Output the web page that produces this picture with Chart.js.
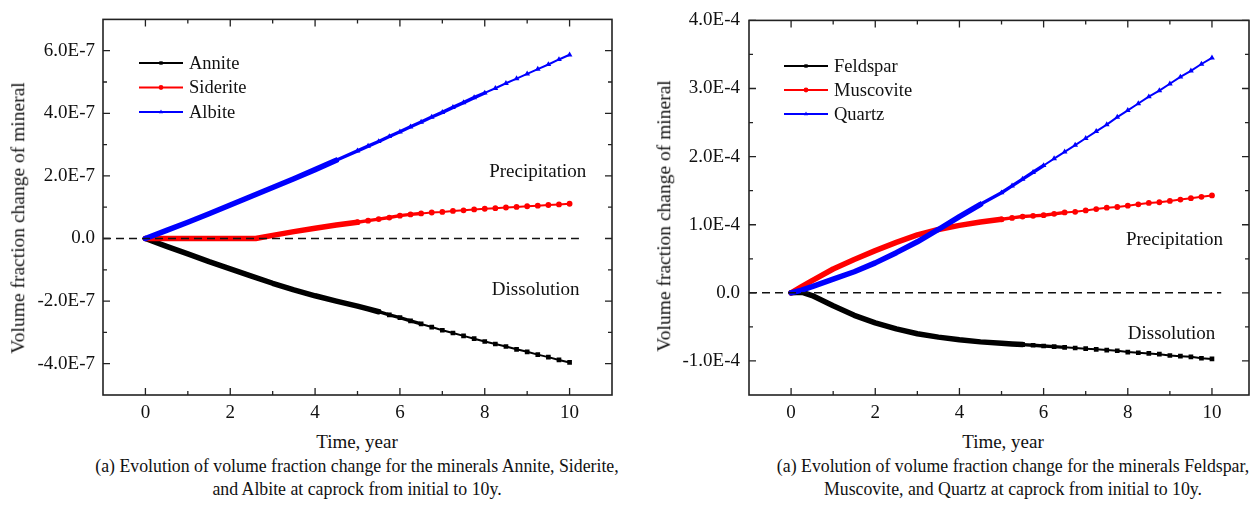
<!DOCTYPE html>
<html>
<head>
<meta charset="utf-8">
<script src="https://cdn.jsdelivr.net/npm/chart.js@4.4.1/dist/chart.umd.min.js"></script>
<style>
  html, body { margin: 0; padding: 0; background: #fff; }
  body { width: 1253px; height: 505px; overflow: hidden; position: relative;
         font-family: "Liberation Serif", "Times New Roman", serif; color: #111; }
  canvas { position: absolute; top: 0; }
  #c1 { left: 0; }
  #c2 { left: 630px; }
  .t { position: absolute; white-space: nowrap; transform: translate(-50%, -50%); font-size: 19px; line-height: 1; }
  .rot { transform: translate(-50%, -50%) rotate(-90deg); font-size: 19.5px; }
  .cap { font-size: 17.8px; }
</style>
</head>
<body>
<canvas id="c1" width="626" height="430"></canvas>
<canvas id="c2" width="623" height="430"></canvas>

<div class="t" style="left:357px; top:441px;">Time, year</div>
<div class="t" style="left:1003px; top:441px;">Time, year</div>
<div class="t rot" style="left:18px; top:218px;">Volume fraction change of mineral</div>
<div class="t rot" style="left:664px; top:216px;">Volume fraction change of mineral</div>
<div class="t cap" style="left:357px; top:467px;">(a) Evolution of volume fraction change for the minerals Annite, Siderite,</div>
<div class="t cap" style="left:357px; top:490px;">and Albite at caprock from initial to 10y.</div>
<div class="t cap" style="left:1013px; top:467px;">(a) Evolution of volume fraction change for the minerals Feldspar,</div>
<div class="t cap" style="left:1013px; top:490px;">Muscovite, and Quartz at caprock from initial to 10y.</div>

<script>
// ---------------- DATA ----------------
// Left chart (values in units of 1E-7)
const unitLeft = 1e-7;
const timeLeft = [0,0.5,1,1.5,2,2.5,3,3.5,4,4.5,5,5.25,5.5,5.75,6,6.25,6.5,6.75,7,7.25,7.5,7.75,8,8.25,8.5,8.75,9,9.25,9.5,9.75,10];
const timeSiderite = [0,0.5,1,1.5,2,2.6,3,3.5,4,4.5,5,5.25,5.5,5.75,6,6.25,6.5,6.75,7,7.25,7.5,7.75,8,8.25,8.5,8.75,9,9.25,9.5,9.75,10];
const annite = [0,-0.25,-0.49,-0.74,-0.97,-1.20,-1.43,-1.64,-1.83,-2.00,-2.16,-2.25,-2.34,-2.44,-2.53,-2.63,-2.73,-2.83,-2.93,-3.02,-3.11,-3.20,-3.29,-3.37,-3.45,-3.54,-3.62,-3.71,-3.79,-3.88,-3.96];
const siderite = [0,0,0,0,0,0,0.10,0.22,0.33,0.43,0.52,0.57,0.62,0.67,0.73,0.77,0.80,0.83,0.85,0.88,0.90,0.93,0.95,0.97,0.99,1.01,1.03,1.05,1.07,1.09,1.11];
const albite = [0,0.26,0.52,0.79,1.07,1.35,1.63,1.91,2.20,2.50,2.80,2.95,3.10,3.26,3.41,3.57,3.72,3.88,4.03,4.19,4.34,4.50,4.65,4.80,4.96,5.11,5.26,5.41,5.56,5.72,5.87];

// Right chart (values in units of 1E-4)
const unitRight = 1e-4;
const timeRight = [0,0.25,0.5,1,1.5,2,2.5,3,3.5,4,4.5,5,5.25,5.5,5.75,6,6.25,6.5,6.75,7,7.25,7.5,7.75,8,8.25,8.5,8.75,9,9.25,9.5,9.75,10];
const feldspar = [0,0.01,-0.04,-0.19,-0.33,-0.44,-0.53,-0.60,-0.65,-0.69,-0.72,-0.74,-0.75,-0.76,-0.77,-0.78,-0.79,-0.80,-0.81,-0.82,-0.83,-0.84,-0.85,-0.87,-0.88,-0.89,-0.90,-0.92,-0.93,-0.94,-0.96,-0.97];
const muscovite = [0,0.09,0.18,0.35,0.49,0.62,0.74,0.85,0.93,0.99,1.04,1.08,1.10,1.12,1.13,1.14,1.16,1.18,1.19,1.21,1.23,1.25,1.26,1.28,1.30,1.32,1.33,1.35,1.37,1.39,1.41,1.43];
const quartz = [0,0.04,0.09,0.20,0.31,0.44,0.59,0.75,0.93,1.12,1.30,1.47,1.57,1.67,1.77,1.87,1.97,2.07,2.17,2.27,2.37,2.47,2.58,2.68,2.78,2.88,2.97,3.07,3.17,3.26,3.36,3.45];

// Reference line (y = 0) extent
const zeroLineTime = [-1, 10.22];
const zeroLineValue = [0, 0];

// Tick values
const xTicks = [0,2,4,6,8,10];
const xMinor = [1,3,5,7,9];
const yTicksLeft = [-4e-7,-2e-7,0,2e-7,4e-7,6e-7];
const yMinorLeft = [-3e-7,-1e-7,1e-7,3e-7,5e-7];
const yTicksRight = [-1e-4,0,1e-4,2e-4,3e-4,4e-4];
const yMinorRight = [-0.5e-4,0.5e-4,1.5e-4,2.5e-4,3.5e-4];

// ---------------- HELPERS ----------------
const FONT = '"Liberation Serif", "Times New Roman", serif';
const pts = (t, v, u) => v.map((val, i) => ({ x: t[i], y: val * u }));
const fmt = v => Math.abs(v) < 1e-15 ? '0.0' : v.toExponential(1).toUpperCase().replace('+', '');

// dense / mid: time limits where the original's closely spaced markers merge into a thick band
function series(label, t, v, u, color, style, dense, mid, order) {
  const r = style === 'circle' ? 2.9 : 3.3;
  return {
    label, data: pts(t, v, u), borderColor: color, backgroundColor: color,
    pointStyle: style, order,
    pointRadius: c => (c.raw && c.raw.x < dense) ? 0 : r,
    pointBorderWidth: 0,
    borderWidth: 2.0, borderJoinStyle: 'round', borderCapStyle: 'round',
    segment: { borderWidth: c => c.p0.parsed.x < dense ? 5.5 : (c.p0.parsed.x < mid ? 3.4 : 2.0) },
    tension: 0, fill: false
  };
}
function zeroLine() {
  return {
    label: '', data: pts(zeroLineTime, zeroLineValue, 1), borderColor: '#111',
    borderWidth: 1.5, borderDash: [8, 5], pointRadius: 0, order: 0, fill: false
  };
}

const framePlugin = {
  id: 'frame',
  afterDraw(chart) {
    const o = chart.options.plugins.frame;
    const { ctx, chartArea: a } = chart;
    const x = chart.scales.x, y = chart.scales.y;
    ctx.save();
    ctx.strokeStyle = '#222';
    ctx.lineWidth = 1.6;
    ctx.strokeRect(a.left, a.top, a.right - a.left, a.bottom - a.top);
    ctx.lineWidth = 1.3;
    const hx = (vals, len) => vals.forEach(v => {
      const p = x.getPixelForValue(v);
      ctx.beginPath(); ctx.moveTo(p, a.bottom); ctx.lineTo(p, a.bottom - len);
      ctx.moveTo(p, a.top); ctx.lineTo(p, a.top + len); ctx.stroke();
    });
    const vy = (vals, len) => vals.forEach(v => {
      const p = y.getPixelForValue(v);
      ctx.beginPath(); ctx.moveTo(a.left, p); ctx.lineTo(a.left + len, p);
      ctx.moveTo(a.right, p); ctx.lineTo(a.right - len, p); ctx.stroke();
    });
    hx(o.xMajor, 7); hx(o.xMinor, 4);
    vy(o.yMajor, 7); vy(o.yMinor, 4);

    // legend
    ctx.font = '18.5px ' + FONT;
    ctx.textBaseline = 'middle';
    ctx.textAlign = 'left';
    const L = o.legend;
    chart.data.datasets.filter(d => d.label).forEach((d, i) => {
      const yy = L.y + i * L.dy;
      ctx.strokeStyle = d.borderColor; ctx.fillStyle = d.borderColor;
      ctx.lineWidth = 2;
      ctx.beginPath(); ctx.moveTo(L.x, yy); ctx.lineTo(L.x + L.len, yy); ctx.stroke();
      Chart.helpers.drawPoint(ctx, { pointStyle: d.pointStyle, radius: 2.4, borderWidth: 0 }, L.x + L.len / 2, yy);
      ctx.fillStyle = '#111';
      ctx.fillText(d.label, L.x + L.len + 6, yy + 1);
    });

    // notes
    ctx.font = '19px ' + FONT;
    ctx.textAlign = 'center';
    o.notes.forEach(n => {
      ctx.fillText(n.text, x.getPixelForValue(n.x), y.getPixelForValue(n.y));
    });
    ctx.restore();
  }
};

function makeChart(id, datasets, cfg) {
  return new Chart(document.getElementById(id), {
    type: 'line',
    data: { datasets },
    plugins: [framePlugin],
    options: {
      responsive: false, animation: false, events: [],
      layout: { padding: { top: 16, left: 0, right: cfg.padRight, bottom: 0 } },
      plugins: {
        legend: { display: false }, tooltip: { enabled: false },
        frame: {
          xMajor: xTicks, xMinor: xMinor, yMajor: cfg.yTicks, yMinor: cfg.yMinor,
          legend: cfg.legend, notes: cfg.notes
        }
      },
      scales: {
        x: {
          type: 'linear', min: -1, max: cfg.xMax,
          grid: { display: false, drawTicks: false }, border: { display: false },
          afterBuildTicks: s => { s.ticks = xTicks.map(v => ({ value: v })); },
          afterFit: s => { s.height = 430 - 395; },
          ticks: { color: '#111', padding: 7, font: { family: FONT, size: 19 }, maxRotation: 0,
                   callback: v => String(v) }
        },
        y: {
          type: 'linear', min: cfg.yMin, max: cfg.yMax,
          grid: { display: false, drawTicks: false }, border: { display: false },
          afterBuildTicks: s => { s.ticks = cfg.yTicks.map(v => ({ value: v })); },
          afterFit: s => { s.width = cfg.yWidth; },
          ticks: { color: '#111', padding: cfg.yPad, font: { family: FONT, size: 19 },
                   callback: v => fmt(v) }
        }
      }
    }
  });
}

makeChart('c1', [
  series('Annite', timeLeft, annite, unitLeft, '#000000', 'rect', 5.5, 6.3, 3),
  series('Siderite', timeSiderite, siderite, unitLeft, '#ff0000', 'circle', 5.0, 6.3, 2),
  series('Albite', timeLeft, albite, unitLeft, '#0000ff', 'triangle', 4.5, 8.0, 1),
  zeroLine()
], {
  padRight: 14, yWidth: 103, yPad: 8, xMax: 11, yMin: -5e-7, yMax: 7e-7,
  yTicks: yTicksLeft, yMinor: yMinorLeft,
  legend: { x: 139, y: 63, dy: 24.5, len: 44 },
  notes: [ { text: 'Precipitation', x: 9.25, y: 2.13e-7 }, { text: 'Dissolution', x: 9.2, y: -1.64e-7 } ]
});

makeChart('c2', [
  series('Feldspar', timeRight, feldspar, unitRight, '#000000', 'rect', 5.5, 6.3, 3),
  series('Muscovite', timeRight, muscovite, unitRight, '#ff0000', 'circle', 5.0, 6.3, 2),
  series('Quartz', timeRight, quartz, unitRight, '#0000ff', 'triangle', 4.5, 6.0, 1),
  zeroLine()
], {
  padRight: 2, yWidth: 119, yPad: 9, xMax: 10.88, yMin: -1.5e-4, yMax: 4e-4,
  yTicks: yTicksRight, yMinor: yMinorRight,
  legend: { x: 154, y: 66, dy: 24, len: 44 },
  notes: [ { text: 'Precipitation', x: 9.11, y: 0.77e-4 }, { text: 'Dissolution', x: 9.04, y: -0.61e-4 } ]
});
</script>
</body>
</html>
